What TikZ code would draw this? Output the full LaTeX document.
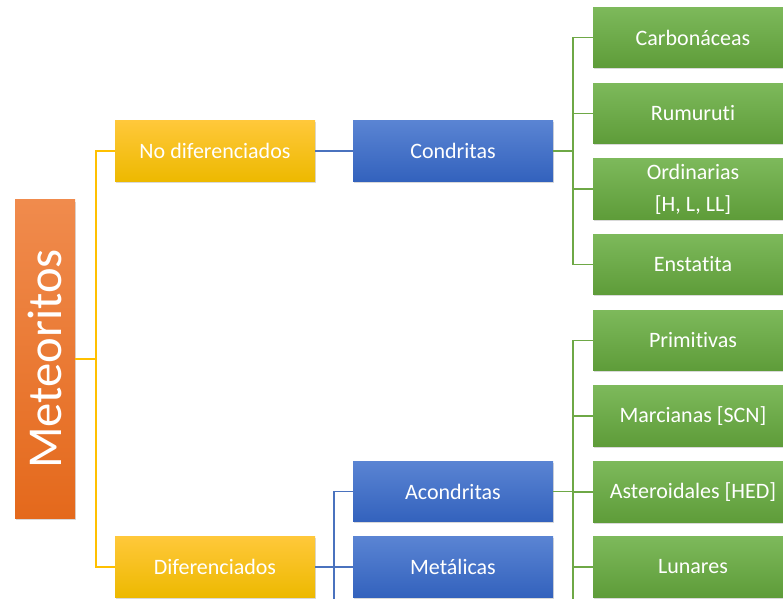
\documentclass[tikz,border=0pt]{standalone}
\usepackage{fontspec}
\setmainfont{Carlito}[Ligatures=NoCommon]
\usetikzlibrary{shadows}

\definecolor{orangetop}{HTML}{F08B4D}
\definecolor{orangebot}{HTML}{E4691C}
\definecolor{yellowtop}{HTML}{FFC83A}
\definecolor{yellowbot}{HTML}{EDB900}
\definecolor{bluetop}{HTML}{5A84D3}
\definecolor{bluebot}{HTML}{3362BD}
\definecolor{greentop}{HTML}{7DB95B}
\definecolor{greenbot}{HTML}{5E9C39}
\definecolor{yellowline}{HTML}{FFC000}
\definecolor{blueline}{HTML}{4A72BE}
\definecolor{greenline}{HTML}{6EA846}

\begin{document}
\begin{tikzpicture}[x=0.75pt, y=-0.75pt,
  box/.style={minimum width=150pt, minimum height=45.5pt, inner sep=2pt, text=white,
    font=\fontsize{16.5}{19}\selectfont, align=center,
    drop shadow={shadow xshift=0.8pt, shadow yshift=-1.2pt, opacity=0.3}},
  rootbox/.style={box, minimum width=45pt, minimum height=238.5pt, top color=orangetop, bottom color=orangebot},
  yellowbox/.style={box, top color=yellowtop, bottom color=yellowbot},
  bluebox/.style={box, top color=bluetop, bottom color=bluebot},
  greenbox/.style={box, top color=greentop, bottom color=greenbot},
  yline/.style={draw=yellowline, line width=1pt},
  bline/.style={draw=blueline, line width=1pt},
  gline/.style={draw=greenline, line width=1.3pt}]

\useasboundingbox (0,0) rectangle (783,599);
\clip (0,0) rectangle (783,599);

% Root
\node[rootbox] (met) at (45, 359) {\rotatebox{90}{\fontsize{36.5}{40}\selectfont Meteoritos}};

% Level 1
\node[yellowbox] (nodif) at (215, 151) {No diferenciados};
\node[yellowbox] (difer) at (215, 567) {Diferenciados};

% Level 2
\node[bluebox] (cond) at (453, 151) {Condritas};
\node[bluebox] (acond) at (453, 491.5) {Acondritas};
\node[bluebox] (metal) at (453, 567) {Metálicas};

% Level 3
\node[greenbox] (carb) at (693, 37.5) {Carbonáceas};
\node[greenbox] (rumu) at (693, 113.5) {Rumuruti};
\node[greenbox] (ordi) at (693, 189) {Ordinarias\\[5pt]{[H, L, LL]}};
\node[greenbox] (enst) at (693, 264.5) {Enstatita};
\node[greenbox] (prim) at (693, 340.5) {Primitivas};
\node[greenbox] (marc) at (693, 416) {Marcianas [SCN]};
\node[greenbox] (aste) at (693, 492) {Asteroidales [HED]};
\node[greenbox] (luna) at (693, 567) {Lunares};

% Trunks
\coordinate (ytrunk) at (96, 0);
\coordinate (btrunk) at (334, 0);
\coordinate (gtrunk) at (573, 0);
\coordinate (bend) at (334, 615);
\coordinate (gend) at (573, 615);

% Lines
\draw[yline] (met.east) -- (met.east -| ytrunk);
\draw[yline] (nodif.west) -- (nodif.west -| ytrunk) -- (difer.west -| ytrunk) -- (difer.west);

\draw[bline] (nodif.east) -- (cond.west);
\draw[bline] (acond.west) -- (acond.west -| btrunk) -- (bend);
\draw[bline] (difer.east) -- (metal.west);

\draw[gline] (cond.east) -- (cond.east -| gtrunk);
\draw[gline] (carb.west) -- (carb.west -| gtrunk) -- (enst.west -| gtrunk) -- (enst.west);
\foreach \n in {rumu, ordi}
  \draw[gline] (\n.west) -- (\n.west -| gtrunk);

\draw[gline] (acond.east) -- (acond.east -| gtrunk);
\draw[gline] (prim.west) -- (prim.west -| gtrunk) -- (gend);
\foreach \n in {marc, aste, luna}
  \draw[gline] (\n.west) -- (\n.west -| gtrunk);

\end{tikzpicture}
\end{document}
